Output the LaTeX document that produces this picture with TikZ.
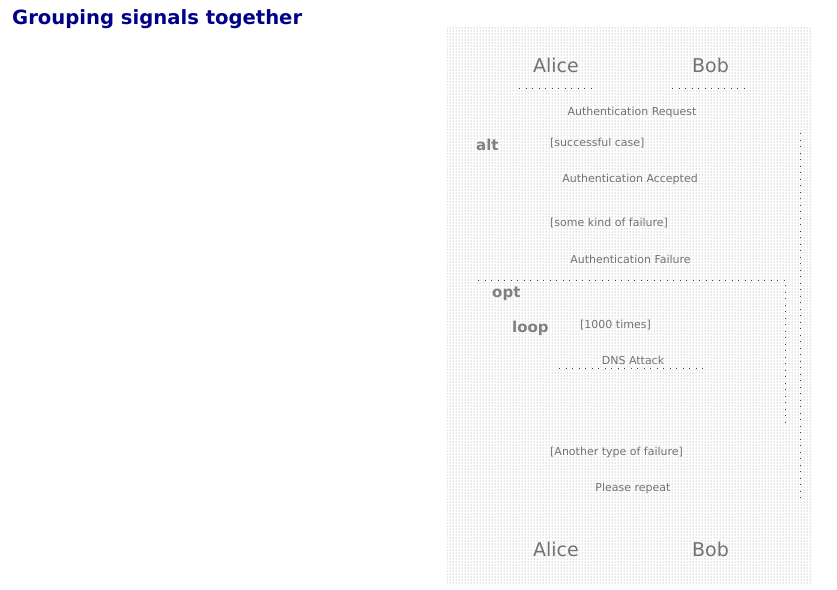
\documentclass[tikz,border=0pt]{standalone}
\usepackage{fontspec}
\setmainfont{DejaVu Sans}
\usetikzlibrary{patterns}
\definecolor{titleblue}{RGB}{0,0,136}
\begin{document}
\begin{tikzpicture}[x=1pt,y=-1pt,
  title/.style={font=\bfseries\fontsize{19.6}{24}\selectfont, text=titleblue, inner sep=0pt, anchor=base west},
  actor/.style={font=\fontsize{19}{23}\selectfont, text=black!55, inner sep=0pt, anchor=base},
  msg/.style={font=\fontsize{11}{13}\selectfont, text=black!55, inner sep=0pt, anchor=base},
  guard/.style={font=\fontsize{11}{13}\selectfont, text=black!55, inner sep=0pt, anchor=base west},
  framelabel/.style={font=\bfseries\fontsize{15}{18}\selectfont, text=black!50, inner sep=0pt, anchor=base west},
  dotline/.style={draw=black!75, line width=1pt, dash pattern=on 1pt off 5.5pt}]
\useasboundingbox (0,0) rectangle (837,589);
\fill[white] (0,0) rectangle (837,589);
% dotted background of the diagram
\fill[pattern=dots, pattern color=black!45] (447,27) rectangle (812,584);
% title
\node[title] (title) at (12,24) {Grouping signals together};
% participants
\node[actor] (aliceT) at (556,72) {Alice};
\node[actor] (bobT) at (710.5,72) {Bob};
\node[actor] (aliceB) at (556,556) {Alice};
\node[actor] (bobB) at (710.5,556) {Bob};
\coordinate (aliceTl) at (519,88);
\coordinate (aliceTr) at (595,88);
\coordinate (bobTl) at (672,88);
\coordinate (bobTr) at (745,88);
\draw[dotline] (aliceTl) -- (aliceTr);
\draw[dotline] (bobTl) -- (bobTr);
% messages
\node[msg] (m1) at (632,115) {Authentication Request};
\node[msg] (m2) at (630,182) {Authentication Accepted};
\node[msg] (m3) at (630.5,263) {Authentication Failure};
\node[msg] (m4) at (633,364) {DNS Attack};
\node[msg] (m5) at (633,491) {Please repeat};
% frames
\node[framelabel] (altL) at (476,150) {alt};
\node[guard] (g1) at (550,146) {[successful case]};
\node[guard] (g2) at (550,226) {[some kind of failure]};
\node[guard] (g3) at (550,455) {[Another type of failure]};
\node[framelabel] (optL) at (492,297) {opt};
\node[framelabel] (loopL) at (512,332) {loop};
\node[guard] (g4) at (580,328) {[1000 times]};
\coordinate (altTR) at (800,133);
\coordinate (altBR) at (800,500);
\draw[dotline] (altTR) -- (altBR);
\coordinate (optTL) at (478,280);
\coordinate (optTR) at (785,280);
\coordinate (optBR) at (785,425);
\draw[dotline] (optTL) -- (optTR) -- (optBR);
% DNS attack arrow, between the two lifelines
\path (aliceT.base) ++(0,296) coordinate (dnsA);
\path (bobT.base) ++(0,296) coordinate (dnsB);
\draw[dotline] ([xshift=3pt]dnsA) -- ([xshift=-5pt]dnsB);
\end{tikzpicture}
\end{document}
